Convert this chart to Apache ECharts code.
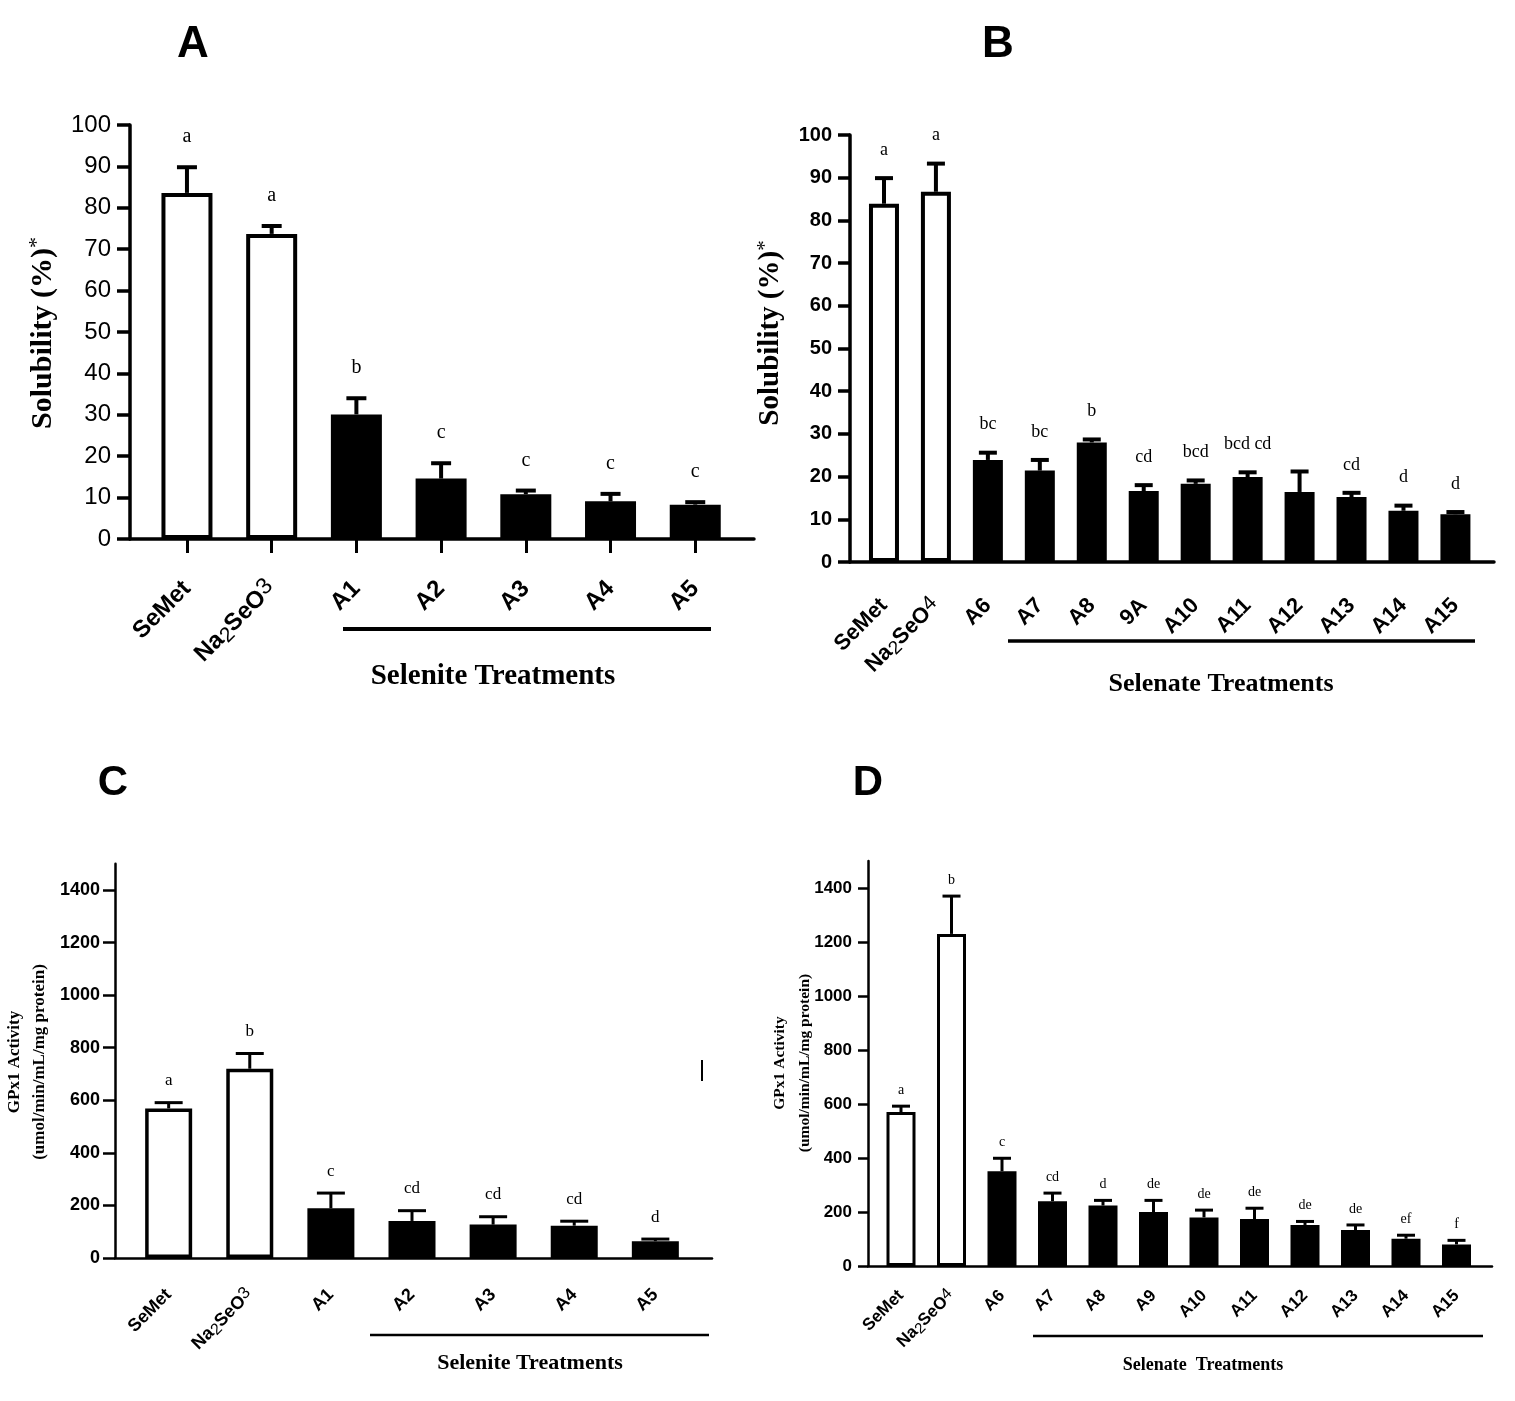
<!DOCTYPE html>
<html><head><meta charset="utf-8">
<script src="https://cdn.jsdelivr.net/npm/echarts@6/dist/echarts.min.js"></script>
<style>html,body{margin:0;padding:0;background:#fff}#c{width:1515px;height:1401px}</style>
</head><body><div id="c"></div>
<script>
// ---------- DATA ----------
const catA = ['SeMet','Na2SeO3','A1','A2','A3','A4','A5'];
const valA = [83.6, 73.7, 30.1, 14.6, 10.8, 9.1, 8.3];
const errA = [6.2, 1.9, 3.9, 3.7, 0.9, 1.8, 0.6];
const sigA = ['a','a','b','c','c','c','c'];

const catB = ['SeMet','Na2SeO4','A6','A7','A8','9A','A10','A11','A12','A13','A14','A15'];
const valB = [83.9, 86.7, 23.9, 21.4, 28.0, 16.6, 18.3, 19.9, 16.4, 15.2, 12.0, 11.2];
const errB = [6.0, 6.6, 1.7, 2.5, 0.7, 1.4, 0.8, 1.1, 4.8, 1.0, 1.2, 0.5];
const sigB = ['a','a','bc','bc','b','cd','bcd','bcd cd','','cd','d','d'];

const catC = ['SeMet','Na2SeO3','A1','A2','A3','A4','A5'];
const valC = [569, 720, 189, 141, 127, 123, 64];
const errC = [22, 58, 58, 39, 30, 17, 8];
const sigC = ['a','b','c','cd','cd','cd','d'];

const catD = ['SeMet','Na2SeO4','A6','A7','A8','A9','A10','A11','A12','A13','A14','A15'];
const valD = [570, 1230, 351, 240, 224, 200, 180, 174, 152, 133, 101, 80];
const errD = [22, 140, 48, 30, 19, 43, 27, 40, 13, 19, 13, 15];
const sigD = ['a','b','c','cd','d','de','de','de','de','de','ef','f'];

const solTicks = [0,10,20,30,40,50,60,70,80,90,100];
const gpxTicks = [0,200,400,600,800,1000,1200,1400];
const nControls = 2;

// ---------- STYLE ----------
const SANS = 'Liberation Sans, Arial, sans-serif';
const SERIF = 'Liberation Serif, Times New Roman, serif';

const panels = [
  {cat:catA, val:valA, err:errA, sig:sigA, ymax:100, yint:10, yticks:solTicks,
   main:{left:144.6, top:125, width:593, height:414}, axisLeft:130, axisWidth:624,
   lw:3.5, barW:51, bw:4, capW:20, stemW:4, sigFs:20, sigOff:30,
   catFs:24, catMargin:46, xTick:true, yFs:24, yBold:false, yMargin:19, yTickLen:13},
  {cat:catB, val:valB, err:errB, sig:sigB, ymax:100, yint:10, yticks:solTicks,
   main:{left:858, top:135, width:623.4, height:427}, axisLeft:850, axisWidth:644,
   lw:3.5, barW:30, bw:4, capW:18, stemW:4, sigFs:18, sigOff:28,
   catFs:22, catMargin:40, xTick:false, yFs:20, yBold:true, yMargin:18, yTickLen:12},
  {cat:catC, val:valC, err:errC, sig:sigC, ymax:1500, yint:200, yticks:gpxTicks,
   main:{left:128.1, top:863.7, width:567.8, height:394.3}, axisLeft:115, axisWidth:597,
   lw:2.5, barW:47, bw:3.5, capW:28, stemW:3, sigFs:17, sigOff:22,
   catFs:18, catMargin:34, xTick:false, yFs:18, yBold:true, yMargin:15, yTickLen:12},
  {cat:catD, val:valD, err:errD, sig:sigD, ymax:1500, yint:200, yticks:gpxTicks,
   main:{left:875.75, top:861, width:606, height:405}, axisLeft:868, axisWidth:624,
   lw:2.5, barW:29, bw:3, capW:18, stemW:3, sigFs:14, sigOff:16,
   catFs:17, catMargin:27, xTick:false, yFs:17, yBold:true, yMargin:16, yTickLen:10}
];

function fmtCat(name){
  const m = name.match(/^Na2SeO(\d)$/);
  if (m) return '{b|Na}{sub|2}{b|SeO}{sup|' + m[1] + '}';
  return '{b|' + name + '}';
}

const grid = [], xAxis = [], yAxis = [], series = [];
panels.forEach((p, k) => {
  const gi = grid.length;
  grid.push(Object.assign({outerBoundsMode:'none', containLabel:false}, p.main));
  grid.push({outerBoundsMode:'none', containLabel:false, left:p.axisLeft, top:p.main.top, width:p.axisWidth, height:p.main.height});
  const fs = p.catFs;
  xAxis.push({
    type:'category', gridIndex:gi, data:p.cat,
    axisLine:{show:false},
    axisTick:{show:p.xTick, alignWithLabel:true, length:14, lineStyle:{color:'#000', width:3}},
    axisLabel:{
      interval:0, rotate:45, align:'right', verticalAlign:'middle', margin:p.catMargin,
      formatter:fmtCat,
      rich:{
        b:{fontFamily:SANS, fontWeight:'bold', fontSize:fs, color:'#000', lineHeight:fs*1.25},
        sub:{fontFamily:SANS, fontWeight:'normal', fontSize:Math.round(fs*0.88), color:'#000', lineHeight:Math.round(fs*0.88), verticalAlign:'bottom'},
        sup:{fontFamily:SANS, fontWeight:'normal', fontSize:Math.round(fs*0.95), color:'#000', lineHeight:Math.round(fs*0.95), verticalAlign:'top'}
      }
    },
    splitLine:{show:false}
  });
  xAxis.push({
    type:'value', gridIndex:gi+1, min:0, max:1,
    axisLine:{show:true, lineStyle:{color:'#000', width:p.lw}},
    axisTick:{show:false}, axisLabel:{show:false}, splitLine:{show:false}
  });
  yAxis.push({
    type:'value', gridIndex:gi, min:0, max:p.ymax, interval:p.yint,
    offset: p.main.left - p.axisLeft,
    axisLine:{show:true, lineStyle:{color:'#000', width:p.lw}},
    axisTick:{show:true, length:p.yTickLen, customValues:p.yticks, lineStyle:{color:'#000', width:p.lw}},
    axisLabel:{customValues:p.yticks, formatter:v => String(v), fontFamily:SANS, fontSize:p.yFs, fontWeight:p.yBold?'bold':'normal', color:'#000', margin:p.yMargin},
    splitLine:{show:false}
  });
  yAxis.push({type:'value', gridIndex:gi+1, min:0, max:1, show:false});

  series.push({
    type:'bar', xAxisIndex:gi, yAxisIndex:gi, barWidth:p.barW,
    data:p.val.map((v, i) => ({value:v, itemStyle:{color: i < nControls ? '#fff' : '#000'}})),
    itemStyle:{borderColor:'#000', borderWidth:p.bw},
    emphasis:{disabled:true}, silent:true, z:2
  });
  series.push({
    type:'custom', xAxisIndex:gi, yAxisIndex:gi, z:3, silent:true,
    data:p.val.map((v, i) => [i, v, p.err[i]]),
    renderItem:(params, api) => {
      const i = api.value(0), v = api.value(1), e = api.value(2);
      const p0 = api.coord([i, v]);
      const p1 = api.coord([i, v + e]);
      return {type:'group', children:[
        {type:'line', shape:{x1:p0[0], y1:p0[1], x2:p1[0], y2:p1[1]}, style:{stroke:'#000', lineWidth:p.stemW}},
        {type:'line', shape:{x1:p1[0]-p.capW/2, y1:p1[1], x2:p1[0]+p.capW/2, y2:p1[1]}, style:{stroke:'#000', lineWidth:p.stemW}},
        {type:'text', x:p1[0], y:p1[1]-p.sigOff, style:{text:p.sig[params.dataIndex], fill:'#000', fontFamily:SERIF, fontSize:p.sigFs, align:'center', verticalAlign:'middle'}}
      ]};
    }
  });
});

function rotText(x, y, text, rich){
  return {type:'text', x:x, y:y, rotation:Math.PI/2, style:{text:text, rich:rich, align:'center', verticalAlign:'middle', fill:'#000'}};
}

const graphic = [
  {type:'text', x:193, y:45, style:{text:'A', fontFamily:SANS, fontWeight:'bold', fontSize:44, fill:'#000', align:'center', verticalAlign:'middle'}},
  {type:'text', x:998, y:45, style:{text:'B', fontFamily:SANS, fontWeight:'bold', fontSize:44, fill:'#000', align:'center', verticalAlign:'middle'}},
  {type:'text', x:113, y:783, style:{text:'C', fontFamily:SANS, fontWeight:'bold', fontSize:42, fill:'#000', align:'center', verticalAlign:'middle'}},
  {type:'text', x:868, y:783, style:{text:'D', fontFamily:SANS, fontWeight:'bold', fontSize:42, fill:'#000', align:'center', verticalAlign:'middle'}},
  rotText(43, 333, '{t|Solubility (%)}{s|*}', {t:{fontFamily:SERIF, fontWeight:'bold', fontSize:30, lineHeight:34}, s:{fontFamily:SERIF, fontSize:22, lineHeight:34, verticalAlign:'top'}}),
  rotText(771, 333, '{t|Solubility (%)}{s|*}', {t:{fontFamily:SERIF, fontWeight:'bold', fontSize:29, lineHeight:32}, s:{fontFamily:SERIF, fontSize:21, lineHeight:32, verticalAlign:'top'}}),
  rotText(27, 1062, '{a|GPx1 Activity}\n{b|(umol/min/mL/mg protein)}', {a:{fontFamily:SERIF, fontWeight:'bold', fontSize:17, lineHeight:25, align:'center'}, b:{fontFamily:SERIF, fontWeight:'bold', fontSize:17, lineHeight:25, align:'center'}}),
  rotText(792, 1063, '{a|GPx1 Activity}\n{b|(umol/min/mL/mg protein)}', {a:{fontFamily:SERIF, fontWeight:'bold', fontSize:15.5, lineHeight:25, align:'center'}, b:{fontFamily:SERIF, fontWeight:'bold', fontSize:15.5, lineHeight:25, align:'center'}}),
  {type:'text', x:493, y:677, style:{text:'Selenite Treatments', fontFamily:SERIF, fontWeight:'bold', fontSize:29, fill:'#000', align:'center', verticalAlign:'middle'}},
  {type:'text', x:1221, y:684, style:{text:'Selenate Treatments', fontFamily:SERIF, fontWeight:'bold', fontSize:26, fill:'#000', align:'center', verticalAlign:'middle'}},
  {type:'text', x:530, y:1363, style:{text:'Selenite Treatments', fontFamily:SERIF, fontWeight:'bold', fontSize:22, fill:'#000', align:'center', verticalAlign:'middle'}},
  {type:'text', x:1203, y:1365, style:{text:'Selenate  Treatments', fontFamily:SERIF, fontWeight:'bold', fontSize:18, fill:'#000', align:'center', verticalAlign:'middle'}},
  {type:'line', shape:{x1:343, y1:629, x2:711, y2:629}, style:{stroke:'#000', lineWidth:4}},
  {type:'line', shape:{x1:1008, y1:641, x2:1475, y2:641}, style:{stroke:'#000', lineWidth:3.5}},
  {type:'line', shape:{x1:370, y1:1335, x2:709, y2:1335}, style:{stroke:'#000', lineWidth:2.5}},
  {type:'line', shape:{x1:1033, y1:1336, x2:1483, y2:1336}, style:{stroke:'#000', lineWidth:2.5}},
  {type:'line', shape:{x1:702, y1:1060, x2:702, y2:1081}, style:{stroke:'#000', lineWidth:2}}
];

const chart = echarts.init(document.getElementById('c'), null, {renderer:'canvas'});
chart.setOption({backgroundColor:'#fff', animation:false, grid, xAxis, yAxis, series, graphic});
</script></body></html>
